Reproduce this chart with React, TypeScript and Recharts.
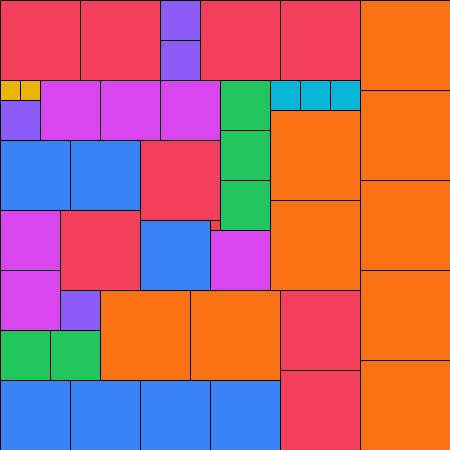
import React from 'react';
import { ScatterChart, Scatter, XAxis, YAxis, ReferenceArea } from 'recharts';

// Partridge tiling (n = 9): k squares of side k, in grid units
const squareX = [36, 36, 36, 36, 36, 27, 27, 10, 19, 0, 8, 20, 28, 14, 6, 28, 28, 0, 7, 14, 0, 7, 14, 21, 4, 10, 16, 21, 0, 0, 22, 22, 22, 0, 5, 16, 16, 0, 6, 27, 30, 33, 0, 2, 21];
const squareY = [0, 9, 18, 27, 36, 11, 20, 29, 29, 0, 0, 0, 0, 14, 21, 29, 37, 14, 14, 22, 38, 38, 38, 38, 8, 8, 8, 23, 21, 27, 8, 13, 18, 33, 33, 0, 4, 10, 29, 8, 8, 8, 8, 8, 22];
const squareSize = [9, 9, 9, 9, 9, 9, 9, 9, 9, 8, 8, 8, 8, 8, 8, 8, 8, 7, 7, 7, 7, 7, 7, 7, 6, 6, 6, 6, 6, 6, 5, 5, 5, 5, 5, 4, 4, 4, 4, 3, 3, 3, 2, 2, 1];

const sizeColors: Record<number, string> = {
  1: '#ef4444',
  2: '#eab308',
  3: '#06b6d4',
  4: '#8b5cf6',
  5: '#22c55e',
  6: '#d946ef',
  7: '#3b82f6',
  8: '#f43f5e',
  9: '#f97316',
};

const squares = squareX.map((x, i) => ({ x, y: squareY[i], s: squareSize[i] }));

export default function App() {
  return (
    <div style={{ position: 'absolute', left: 0, top: 0, width: 450, height: 450, overflow: 'hidden' }}>
      <ScatterChart width={450.5} height={450.5} margin={{ top: 0.5, right: 0, bottom: 0, left: 0.5 }}>
        <XAxis type="number" dataKey="x" domain={[0, 45]} hide allowDataOverflow />
        <YAxis type="number" dataKey="y" domain={[0, 45]} reversed hide allowDataOverflow />
        <Scatter data={squares} isAnimationActive={false} shape={() => null} />
        {squares.map((sq, i) => (
          <ReferenceArea
            key={i}
            x1={sq.x}
            x2={sq.x + sq.s}
            y1={sq.y}
            y2={sq.y + sq.s}
            fill={sizeColors[sq.s]}
            fillOpacity={1}
            stroke="#000000"
            strokeWidth={1}
            strokeOpacity={1}
            ifOverflow="visible"
          />
        ))}
      </ScatterChart>
    </div>
  );
}
